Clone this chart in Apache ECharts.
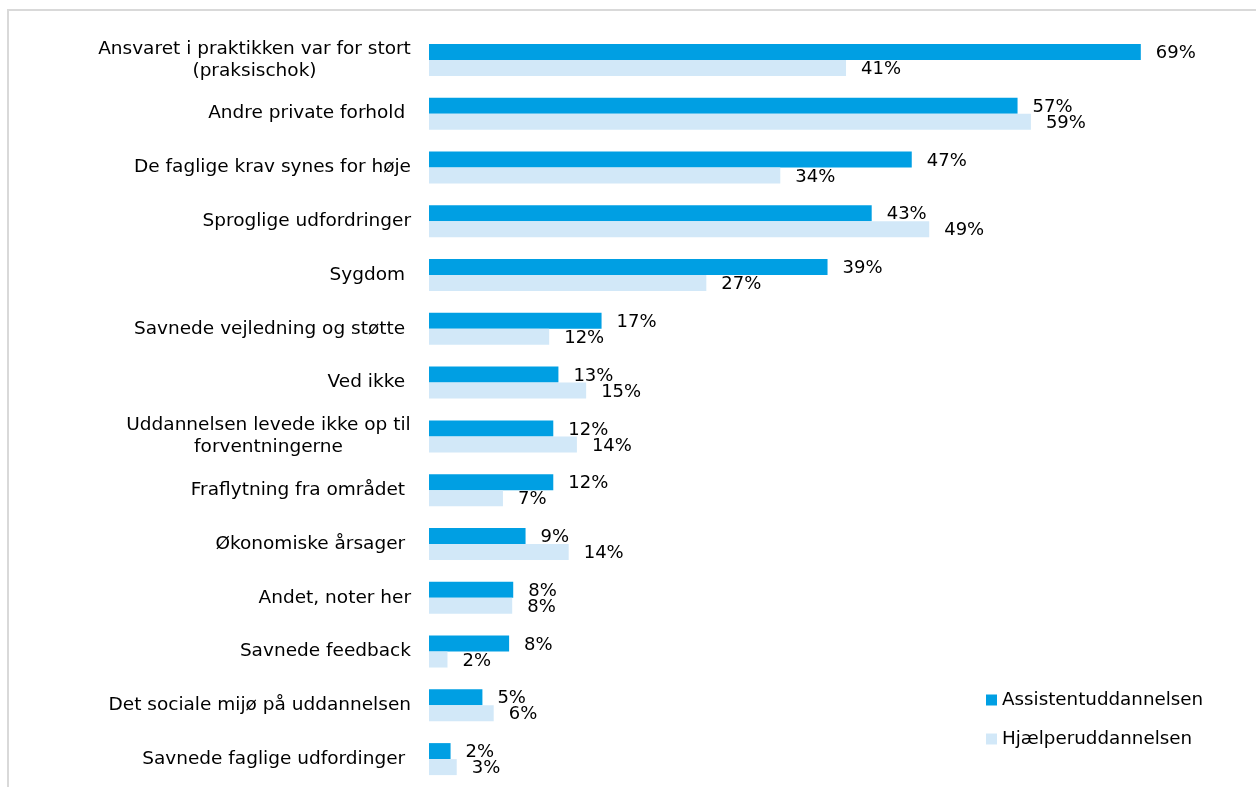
<!DOCTYPE html>
<html>
<head>
<meta charset="utf-8">
<script src="https://cdn.jsdelivr.net/npm/echarts@6/dist/echarts.min.js"></script>
<style>
  html, body { margin: 0; padding: 0; background: #fff; }
  #chart { width: 1256px; height: 787px; }
</style>
</head>
<body>
<div id="chart"></div>
<script>
// categories top to bottom (trailing spaces are in the original labels)
const categories = [
  'Ansvaret i praktikken var for stort\n(praksischok)',
  'Andre private forhold ',
  'De faglige krav synes for høje',
  'Sproglige udfordringer',
  'Sygdom ',
  'Savnede vejledning og støtte ',
  'Ved ikke ',
  'Uddannelsen levede ikke op til\nforventningerne',
  'Fraflytning fra området ',
  'Økonomiske årsager ',
  'Andet, noter her',
  'Savnede feedback',
  'Det sociale mijø på uddannelsen',
  'Savnede faglige udfordinger '
];
const seriesNames = ['Assistentuddannelsen', 'Hjælperuddannelsen'];
// percentages
const assistent = [69.3, 57.3, 47.0, 43.1, 38.8, 16.8, 12.6, 12.1, 12.1, 9.4, 8.2, 7.8, 5.2, 2.1];
const hjaelper  = [40.6, 58.6, 34.2, 48.7, 27.0, 11.7, 15.3, 14.4, 7.2, 13.6, 8.1, 1.8, 6.3, 2.7];

const FONT = '"DejaVu Sans", Verdana, sans-serif';
const CAT_SIZE = 18.5;
const chart = echarts.init(document.getElementById('chart'));

// two-line labels are centred on their longest line
const ctx = document.createElement('canvas').getContext('2d');
ctx.font = CAT_SIZE + 'px ' + FONT;
const rich = {};
categories.forEach((c, i) => {
  if (c.includes('\n')) {
    const w = Math.max(...c.split('\n').map(l => ctx.measureText(l).width));
    rich['c' + i] = { width: Math.ceil(w), align: 'center', fontSize: CAT_SIZE, fontFamily: FONT, color: '#000', lineHeight: 22 };
  }
});

const labelStyle = {
  show: true,
  position: 'right',
  distance: 15,
  offset: [0, 1.5],
  fontSize: 18,
  fontFamily: FONT,
  color: '#000',
  formatter: p => Math.round(p.value) + '%'
};

chart.setOption({
  animation: false,
  backgroundColor: '#fff',
  graphic: [{
    type: 'rect',
    shape: { x: 8, y: 10, width: 1400, height: 900 },
    style: { fill: null, stroke: '#d9d9d9', lineWidth: 2 },
    silent: true
  }],
  grid: { left: 429, right: 108, top: 33, bottom: 1 },
  legend: {
    orient: 'vertical',
    left: 981,
    top: 686,
    icon: 'rect',
    itemWidth: 11,
    itemHeight: 11,
    itemGap: 21,
    textStyle: { fontSize: 18.3, fontFamily: FONT, color: '#000' },
    data: seriesNames
  },
  xAxis: {
    type: 'value',
    min: 0,
    max: 70,
    show: false,
    splitLine: { show: false }
  },
  yAxis: {
    type: 'category',
    inverse: true,
    data: categories,
    axisLine: { show: false },
    axisTick: { show: false },
    axisLabel: {
      margin: 18,
      fontSize: CAT_SIZE,
      fontFamily: FONT,
      color: '#000',
      lineHeight: 22,
      rich: rich,
      formatter: (v, i) => v.includes('\n')
        ? v.split('\n').map(l => '{c' + i + '|' + l + '}').join('\n')
        : v
    }
  },
  series: [
    {
      name: seriesNames[0],
      type: 'bar',
      data: assistent,
      barWidth: 16,
      barGap: '0%',
      itemStyle: { color: '#009FE3' },
      label: labelStyle
    },
    {
      name: seriesNames[1],
      type: 'bar',
      data: hjaelper,
      barWidth: 16,
      itemStyle: { color: '#D2E8F8' },
      label: labelStyle
    }
  ]
});
</script>
</body>
</html>
